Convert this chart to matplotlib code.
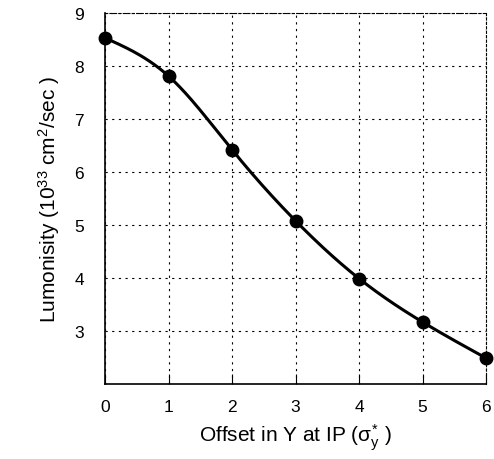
import numpy as np
import matplotlib.pyplot as plt

plt.rcParams['font.family'] = ['Liberation Sans', 'DejaVu Sans']
plt.rcParams['mathtext.fontset'] = 'custom'
plt.rcParams['mathtext.rm'] = 'Liberation Sans'
plt.rcParams['mathtext.it'] = 'Liberation Sans'

# offset in sigma_y* and luminosity (1e33 cm^-2 s^-1)
offset = [0, 1, 2, 3, 4, 5, 6]
lumi = [8.53, 7.81, 6.42, 5.08, 3.99, 3.17, 2.49]


def natural_spline(x, y, xs):
    x = np.asarray(x, float)
    y = np.asarray(y, float)
    n = len(x)
    h = np.diff(x)
    A = np.zeros((n, n))
    b = np.zeros(n)
    A[0, 0] = A[-1, -1] = 1
    for i in range(1, n - 1):
        A[i, i - 1] = h[i - 1]
        A[i, i] = 2 * (h[i - 1] + h[i])
        A[i, i + 1] = h[i]
        b[i] = 6 * ((y[i + 1] - y[i]) / h[i] - (y[i] - y[i - 1]) / h[i - 1])
    M = np.linalg.solve(A, b)
    idx = np.clip(np.searchsorted(x, xs) - 1, 0, n - 2)
    x0, x1 = x[idx], x[idx + 1]
    hh = x1 - x0
    t0 = x1 - xs
    t1 = xs - x0
    return (M[idx] * t0**3 / (6 * hh) + M[idx + 1] * t1**3 / (6 * hh)
            + (y[idx] / hh - M[idx] * hh / 6) * t0
            + (y[idx + 1] / hh - M[idx + 1] * hh / 6) * t1)


fig = plt.figure(figsize=(4.94, 4.6), dpi=100)
ax = fig.add_axes([0.2126, 0.163, 0.7712, 0.8066])

xs = np.linspace(0, 6, 300)
ax.plot(xs, natural_spline(offset, lumi, xs), color='black', lw=2.2, clip_on=False)
ax.plot(offset, lumi, 'o', color='black', ms=9, clip_on=False, zorder=5)

ax.set_xlim(0, 6)
ax.set_ylim(2, 9)
ax.set_xticks(range(0, 7))
ax.set_yticks(range(3, 10))
ax.grid(True, color='black', linestyle=(0, (2, 4)), linewidth=0.8)
ax.tick_params(direction='in', length=7, labelsize=12.5, pad=11)
ax.tick_params(axis='y', length=0, pad=15)
for s in ['top', 'right']:
    ax.spines[s].set_linestyle((0, (2, 2)))
    ax.spines[s].set_linewidth(0.8)
for s in ['left', 'bottom']:
    ax.spines[s].set_linewidth(1.2)

ax.set_xlabel(r'Offset in Y at IP ($\sigma^{*}_{y}$ )', fontsize=15, labelpad=5)
ax.set_ylabel(r'Lumonisity ($10^{33}$ cm$^{2}$/sec )', fontsize=15, labelpad=9)

fig.savefig('out.png', dpi=100)
